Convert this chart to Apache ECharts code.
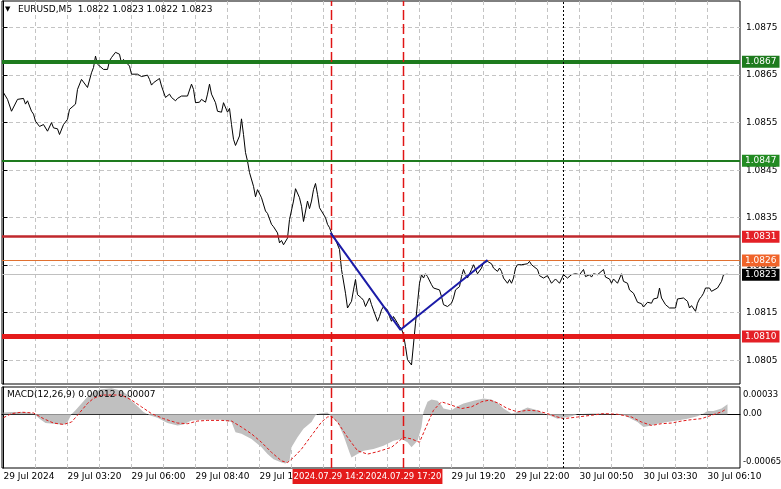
<!DOCTYPE html>
<html><head><meta charset="utf-8">
<script src="https://cdn.jsdelivr.net/npm/echarts@6/dist/echarts.min.js"></script>
<style>html,body{margin:0;padding:0;background:#fff}#c{width:781px;height:489px}</style>
</head><body><div id="c"></div>
<script>
const FONT = 'DejaVu Sans';
const symbolName = 'EURUSD,M5';
const ohlc = ['1.0822', '1.0823', '1.0822', '1.0823'];
const macdTitle = 'MACD(12,26,9) 0.00012 0.00007';

// M5 bar index (0 = 29 Jul 00:40) and close price at line vertices
const priceBar = [0,2,4,7,8,10,11,12,14,15,16,18,20,21,22,24,25,27,28,30,32,33,34,36,37,39,40,42,44,45,46,47,48,50,52,53,54,56,57,58,59,60,61,63,64,67,69,70,72,73,
74,75,78,79,81,83,84,86,87,89,90,92,94,95,96,98,99,101,102,103,104,106,107,109,110,111,112,113,114,115,116,118,119,120,121,122,123,125,126,127,128,129,131,132,133,134,135,137,138,139,140,142,143,145,146,148,149,
150,152,153,154,155,156,157,158,159,161,162,163,164,166,168,169,171,172,174,175,176,177,179,180,181,183,184,185,187,188,189,190,192,193,194,195,197,198,199,200,201,202,204,205,206,207,208,209,210,211,212,213,214,215,216,218,219,220,222,
224,225,226,228,229,230,231,232,234,235,236,237,239,240,242,243,244,245,247,248,249,250,252,253,254,255,256,257,258,259,262,263,264,265,267,268,270,272,273,274,276,278,279,280,282,283,284,286,288,289,290,291,293,294,295,297,298,
300,301,303,304,305,307,308,309,310,312,313,314,315,317,319,320,322,323,324,325,327,328,329,331,332,333,336,337,340,342,343,344,346,347,348,349,350,351,353,354,355,357,359,360,362];
const priceClose = [1.08613,1.08599,1.08574,1.08599,1.08603,1.08601,1.08589,1.08596,1.08574,1.08568,1.08553,1.08542,1.08546,1.08550,1.08532,1.08550,1.08539,1.08537,1.08525,1.08546,1.08557,1.08578,1.08582,1.08589,1.08620,1.08641,1.08643,1.08624,1.08655,1.08666,1.08690,1.08673,1.08675,1.08662,1.08662,1.08680,1.08687,1.08698,1.08701,1.08694,1.08675,1.08683,1.08682,1.08669,1.08652,1.08652,1.08647,1.08645,1.08650,1.08641,
1.08629,1.08634,1.08643,1.08627,1.08603,1.08610,1.08603,1.08596,1.08601,1.08606,1.08610,1.08606,1.08631,1.08620,1.08592,1.08593,1.08599,1.08593,1.08610,1.08631,1.08610,1.08592,1.08574,1.08572,1.08592,1.08590,1.08572,1.08580,1.08546,1.08515,1.08502,1.08522,1.08558,1.08525,1.08487,1.08469,1.08445,1.08416,1.08394,1.08409,1.08411,1.08392,1.08364,1.08359,1.08360,1.08336,1.08331,1.08318,1.08297,1.08302,1.08293,1.08307,1.08346,1.08385,1.08411,1.08392,1.08374,
1.08342,1.08385,1.08369,1.08385,1.08409,1.08422,1.08399,1.08371,1.08367,1.08350,1.08336,1.08329,1.08318,1.08304,1.08283,1.08241,1.08191,1.08160,1.08174,1.08198,1.08220,1.08188,1.08181,1.08176,1.08163,1.08181,1.08167,1.08163,1.08132,1.08142,1.08156,1.08163,1.08156,1.08142,1.08132,1.08142,1.08128,1.08121,1.08116,1.08104,1.08079,1.08051,1.08040,1.08040,1.08128,1.08170,1.08212,1.08230,1.08223,1.08232,1.08226,1.08230,1.08209,1.08202,1.08204,1.08198,1.08184,1.08167,1.08163,
1.08170,1.08181,1.08198,1.08205,1.08226,1.08241,1.08230,1.08223,1.08241,1.08251,1.08248,1.08232,1.08244,1.08255,1.08258,1.08262,1.08253,1.08244,1.08237,1.08244,1.08237,1.08223,1.08212,1.08220,1.08212,1.08223,1.08244,1.08251,1.08249,1.08251,1.08253,1.08258,1.08251,1.08249,1.08241,1.08228,1.08223,1.08228,1.08220,1.08212,1.08221,1.08212,1.08221,1.08230,1.08223,1.08226,1.08230,1.08232,1.08230,1.08232,1.08241,1.08226,1.08230,1.08225,1.08232,1.08230,1.08234,
1.08241,1.08225,1.08221,1.08212,1.08221,1.08212,1.08216,1.08232,1.08216,1.08212,1.08198,1.08202,1.08191,1.08172,1.08169,1.08162,1.08172,1.08176,1.08170,1.08179,1.08181,1.08202,1.08181,1.08167,1.08170,1.08160,1.08160,1.08179,1.08181,1.08174,1.08160,1.08165,1.08153,1.08170,1.08179,1.08184,1.08191,1.08202,1.08202,1.08195,1.08191,1.08202,1.08216,1.08230,1.08231];

// trend line drawn on the chart
const trendBar = [163.5, 198.5, 242];
const trendPrice = [1.08318, 1.08114, 1.08261];

// MACD histogram vertices
const histBar = [0,4,10,15,18,21,25,30,32,34,36,39,42,45,49,54,59,62,64,67,70,73,77,82,87,90,94,99,104,109,114,116,119,124,129,132,135,139,141,143,144,147,150,154,156,158,162,164,167,170,173,174,177,180,185,190,195,199,202,204,205,207,209,210,212,214,217,219,220,224,227,230,235,240,244,247,250,254,257,262,267,270,274,277,280,284,287,294,300,310,317,320,324,327,332,337,342,347,350,352,355,359,362];
const histVal = [0.00002,0.000029,0.000029,0.000008,-0.000053,-0.000106,-0.000114,-0.000127,-0.000094,0,0.000049,0.000131,0.000212,0.000274,0.000302,0.000314,0.000286,0.000233,0.000163,0.000098,0.000029,-0.000012,-0.000041,-0.000106,-0.000135,-0.000123,-0.000074,-0.000065,-0.000065,-0.000065,-0.000094,-0.000216,-0.000237,-0.000298,-0.0004,-0.000482,-0.000543,-0.000584,-0.000596,-0.000564,-0.0004,-0.000278,-0.000176,-0.000094,-0.000012,0.000008,0.00002,-0.000033,-0.000094,-0.000257,-0.000461,-0.000523,-0.000482,-0.000441,-0.000421,-0.00038,-0.000319,-0.000298,-0.000339,-0.0004,-0.00042,-0.000319,-0.000155,0.000029,0.000151,0.00018,0.000163,0.00011,0.000069,0.000049,0.000098,0.000131,0.000163,0.000192,0.00018,0.000139,0.000069,0.000008,0.000029,0.000082,0.000049,0.000008,-0.000025,-0.000053,-0.000041,-0.000025,0,0.000008,0.000008,-0.000008,-0.000094,-0.000155,-0.000135,-0.000114,-0.000094,-0.000074,-0.000053,-0.000025,0.000008,0.000041,0.000041,0.000069,0.000122];

// MACD signal vertices
const sigBar = [0,4,9,15,20,25,30,34,37,42,45,49,54,59,64,69,74,80,87,92,97,102,109,114,119,124,129,134,139,142,145,149,154,159,162,164,167,172,177,182,187,194,200,204,208,212,215,219,224,229,234,239,243,247,252,257,262,267,272,277,280,287,294,300,307,314,319,324,329,334,339,344,349,354,359,361];
const sigVal = [-0.000041,0.000008,0.000025,0.000016,-0.000053,-0.000106,-0.000123,-0.000094,-0.000012,0.000131,0.000192,0.000233,0.000233,0.000233,0.000172,0.00009,0.000008,-0.000053,-0.000106,-0.000114,-0.000082,-0.000074,-0.000074,-0.000082,-0.000155,-0.000237,-0.000339,-0.000461,-0.000564,-0.000584,-0.000523,-0.000421,-0.000257,-0.000094,-0.000033,-0.000025,-0.000094,-0.000278,-0.000441,-0.000482,-0.000453,-0.0004,-0.000278,-0.000298,-0.000339,-0.000114,0.000049,0.000151,0.00011,0.000069,0.00009,0.000151,0.000172,0.000139,0.000069,0.000029,0.000049,0.000041,0.000008,-0.000033,-0.000053,-0.000033,-0.000012,0.000008,0,-0.000033,-0.000094,-0.000135,-0.000114,-0.000106,-0.000082,-0.000065,-0.000053,-0.000012,0.000029,0.000057];

// horizontal levels
const levelPrice = [1.08678, 1.0847, 1.0831, 1.0826, 1.0823, 1.0810];
const levelLabel = ['1.0867', '1.0847', '1.0831', '1.0826', '1.0823', '1.0810'];

// vertical markers
const markerBar = [164, 200];
const markerLabel = ['2024.07.29 14:20', '2024.07.29 17:20'];
const dayBreakBar = 280;

// axes ranges and ticks
const priceMin = 1.0800, priceMax = 1.08806;
const macdMin = -0.00065, macdMax = 0.00033;
const priceTicks = [1.0805, 1.0815, 1.0825, 1.0835, 1.0845, 1.0855, 1.0865, 1.0875];
const macdTicks = [0.00033, 0, -0.00065];
const macdTickText = ['0.00033', '0.00', '-0.00065'];
const gridBars = [16,32,48,64,80,96,112,128,144,160,176,192,208,224,240,256,272,288,304,320,336,352];
const xLabelBars = [0,32,64,96,128,160,192,224,256,288,320,352];
const xLabelText = ['29 Jul 2024','29 Jul 03:20','29 Jul 06:00','29 Jul 08:40','29 Jul 11:20','29 Jul 14:00','29 Jul 16:40','29 Jul 19:20','29 Jul 22:00','30 Jul 00:50','30 Jul 03:30','30 Jul 06:10'];

// styles
const FS = 9;
const RED_V = '#e01414';
const levelStyle = [
  {c:'#1e7b1e', w:4, bg:'#1e7b1e'},
  {c:'#1e7b1e', w:2, bg:'#228b22'},
  {c:'#c0282d', w:2.5, bg:'#e42026'},
  {c:'#e07030', w:1, bg:'#f0642a'},
  {c:'#c0c0c0', w:1, bg:'#000000'},
  {c:'#e41b1b', w:5, bg:'#e42026'}
];
const gridLine = {show:true, lineStyle:{color:'#c4c4c4', type:[4,3], width:1}};
const lblFont = {fontFamily: FONT, fontSize: FS, color: '#000'};

const xMin = -0.75, xMax = 368.25;
const chart = echarts.init(document.getElementById('c'), null, {renderer:'canvas'});

const hLines = levelPrice.map((p, i) => ({
  yAxis: p,
  lineStyle: {color: levelStyle[i].c, width: levelStyle[i].w, type: 'solid'},
  label: {show: true, position: 'end', distance: 2, formatter: levelLabel[i],
    backgroundColor: levelStyle[i].bg, color: '#fff', fontFamily: FONT, fontSize: FS,
    padding: [1, 3, 0, 3], lineHeight: 11}
}));
const vLabelsMacd = markerBar.map((b, i) => ({xAxis: b, lineStyle:{color: 'rgba(0,0,0,0)', width: 1, type: 'solid'},
  label:{show:true, position:'start', distance:1, formatter: markerLabel[i], backgroundColor:'#e41b1b',
    color:'#fff', fontFamily: FONT, fontSize: 8.5, padding:[3,1,3,1], opacity: 1}}));

// vertical marker lines as series (one per grid)
function vSeries(bar, gi, lo, hi, color, type, w) {
  return {type: 'line', xAxisIndex: gi, yAxisIndex: gi, data: [[bar, lo], [bar, hi]],
    showSymbol: false, symbol: 'none', silent: true, z: 6,
    lineStyle: {color: color, width: w, type: type, opacity: 1}};
}
const verticalSeries = [];
markerBar.forEach(b => {
  verticalSeries.push(vSeries(b, 0, priceMin, priceMax, RED_V, [10, 4], 1.5));
  verticalSeries.push(vSeries(b, 1, macdMin, macdMax, RED_V, [10, 4], 1.5));
});
verticalSeries.push(vSeries(dayBreakBar, 0, priceMin, priceMax, '#000', [2, 2], 1));
verticalSeries.push(vSeries(dayBreakBar, 1, macdMin, macdMax, '#000', [2, 2], 1));

const option = {
  animation: false,
  backgroundColor: '#fff',
  textStyle: {fontFamily: FONT},
  title: [
    {text: '{t|▼}' + symbolName + '  ' + ohlc.join(' '), left: 5, top: 5, padding: 0,
     textStyle: {fontFamily: FONT, fontSize: FS, fontWeight: 'normal', color: '#000',
       rich: {t: {fontSize: 7, width: 13, fontFamily: FONT, color:'#000'}}}},
    {text: macdTitle, left: 7, top: 390, padding: 0,
     textStyle: {fontFamily: FONT, fontSize: FS, fontWeight: 'normal', color: '#000'}}
  ],
  grid: [
    {left: 2, top: 1, width: 738, height: 383, show: true, borderColor: '#000', borderWidth: 1,
     backgroundColor: '#fff', containLabel: false, outerBoundsMode: 'none'},
    {left: 2, top: 387, width: 738, height: 81, show: true, borderColor: '#000', borderWidth: 1,
     backgroundColor: '#fff', containLabel: false, outerBoundsMode: 'none'}
  ],
  xAxis: [
    {gridIndex: 0, type: 'value', min: xMin, max: xMax, axisLine: {show: false},
     axisTick: {show: false, customValues: gridBars}, axisLabel: {show: false}, splitLine: gridLine},
    {gridIndex: 1, type: 'value', min: xMin, max: xMax, axisLine: {show: true, lineStyle: {color: '#000'}},
     axisTick: {show: false, customValues: gridBars},
     axisLabel: Object.assign({show: true, customValues: xLabelBars, align: 'left', margin: 4,
       formatter: v => xLabelText[xLabelBars.indexOf(Math.round(v))] || ''}, lblFont),
     splitLine: gridLine}
  ],
  yAxis: [
    {gridIndex: 0, type: 'value', position: 'right', min: priceMin, max: priceMax,
     axisLine: {show: true, lineStyle: {color: '#000'}},
     axisTick: {show: true, length: 4, customValues: priceTicks, lineStyle: {color: '#000'}},
     axisLabel: Object.assign({customValues: priceTicks, margin: 6, formatter: v => v.toFixed(4)}, lblFont),
     splitLine: gridLine},
    {gridIndex: 1, type: 'value', position: 'right', min: macdMin, max: macdMax,
     axisLine: {show: true, lineStyle: {color: '#000'}},
     axisTick: {show: true, length: 3, customValues: [0], lineStyle: {color: '#000'}},
     axisLabel: {customValues: macdTicks, margin: 3, fontFamily: FONT, fontSize: 8.5, color: '#000',
       formatter: v => {
         const i = macdTicks.findIndex(t => Math.abs(t - v) < 1e-9);
         const s = macdTickText[i];
         return v > 0 ? '{top|' + s + '}' : (v < 0 ? '{bot|' + s + '}' : s);
       },
       rich: {top: {padding: [16, 0, 0, 0], fontFamily: FONT, fontSize: 8.5, color: '#000'},
              bot: {padding: [0, 0, 12, 0], fontFamily: FONT, fontSize: 8.5, color: '#000'}}},
     splitLine: gridLine}
  ],
  series: [
    {type: 'line', xAxisIndex: 0, yAxisIndex: 0, data: priceBar.map((b, i) => [b, priceClose[i]]),
     showSymbol: false, symbol: 'none', lineStyle: {color: '#000', width: 1}, z: 2, silent: true,
     markLine: {silent: true, symbol: ['none', 'none'], precision: 5, animation: false, z: 5,
       data: hLines}},
    {type: 'line', xAxisIndex: 0, yAxisIndex: 0, data: trendBar.map((b, i) => [b, trendPrice[i]]),
     showSymbol: false, symbol: 'none', lineStyle: {color: '#1c1ca8', width: 2}, z: 8, silent: true},
    {type: 'line', xAxisIndex: 1, yAxisIndex: 1, data: histBar.map((b, i) => [b, histVal[i]]),
     showSymbol: false, symbol: 'none', lineStyle: {width: 0, color: '#c0c0c0'},
     areaStyle: {color: '#c0c0c0', opacity: 1}, z: 2, silent: true},
    {type: 'line', xAxisIndex: 1, yAxisIndex: 1, data: sigBar.map((b, i) => [b, sigVal[i]]),
     showSymbol: false, symbol: 'none', lineStyle: {color: '#e01818', width: 1, type: [3, 2]}, z: 3, silent: true,
     markLine: {silent: true, symbol: ['none', 'none'], animation: false, z: 9, data: vLabelsMacd}}
  ].concat(verticalSeries)
};
chart.setOption(option);
</script>
</body></html>
